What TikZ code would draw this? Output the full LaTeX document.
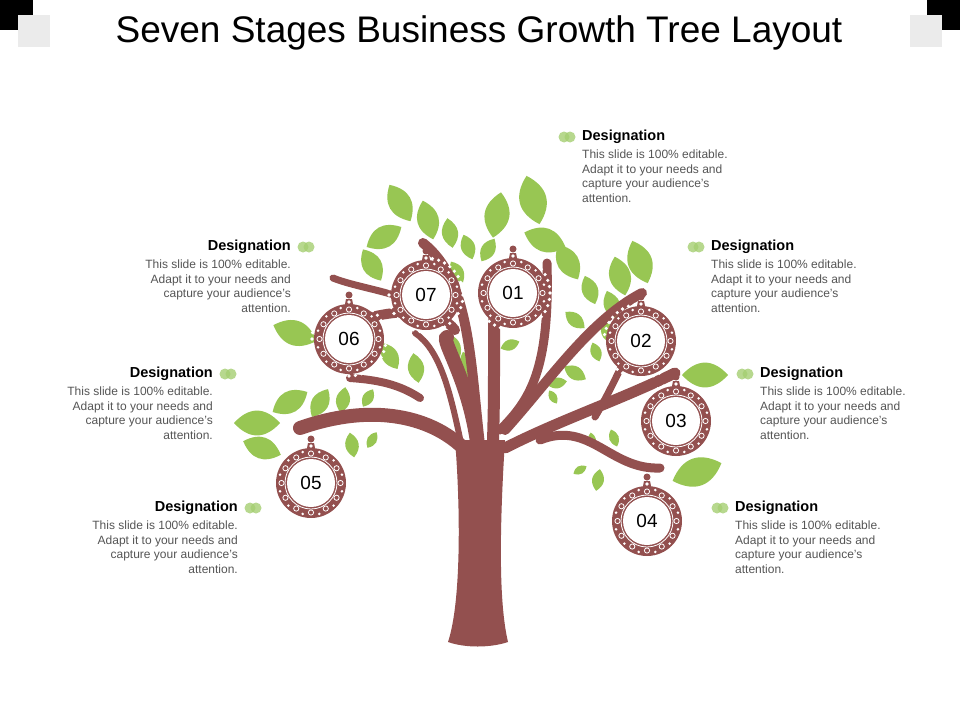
\documentclass[tikz,border=0pt]{standalone}
\usepackage{fontspec}
\setmainfont{Liberation Sans}
\begin{document}
\begin{tikzpicture}[x=1pt,y=-1pt,
  bark/.style={fill=bark,draw=none},
  br/.style={draw=bark,line cap=round},
  hd/.style={font=\fontsize{14.5}{16}\selectfont\bfseries,inner sep=0pt},
  bd/.style={font=\fontsize{12}{14.5}\selectfont,text=txt,inner sep=0pt},
  dot/.style={fill=dotg,draw=none,opacity=.8}]
\definecolor{bark}{HTML}{93504F}
\definecolor{leafc}{HTML}{98C653}
\definecolor{dotg}{HTML}{A5CF72}
\definecolor{txt}{HTML}{555555}
\useasboundingbox (0,0) rectangle (960,720);
\fill[white] (0,0) rectangle (960,720);
\fill[black] (0,0) rectangle (33,30);
\fill[black!8] (18,15) rectangle (50,47);
\fill[black] (927,0) rectangle (960,30);
\fill[black!8] (910,15) rectangle (942,47);
\node[font=\fontsize{37}{42}\selectfont] (title) at (479,33) {Seven Stages Business Growth Tree Layout};
% leaves
\newcommand\leaf[4]{\fill[leafc,shift={(#1,#2)},rotate=-#3,scale=#4/2]
 (-1,0) .. controls (-.35,-.72) and (.35,-.72) .. (1,0) .. controls (.35,.72) and (-.35,.72) .. (-1,0);}
\foreach \a/\b/\c/\d in {400/203/60/42,428/220/75/40,450/233/80/30,468/247/70/26,497/215/100/46,533/200/75/50,545/240/20/44,568/262/60/40,590/290/70/30,612/305/70/30,620/276/75/40,640/262/70/45,384/237/-30/40,372/265/60/36,457/272/60/24,488/250/120/26,390/356/60/30,416/368/80/30,452/346/60/30,468/366/70/30,510/345/-20/20,575/320/40/25,596/352/70/20,575/373/30/25,557/383/-10/20,553/397/60/15,608/332/70/25,295/333/20/46,290/402/-30/40,320/403/-60/32,343/400/-80/26,368/398/-60/20,257/423/0/46,262/448/20/40,352/445/80/25,372/440/-60/18,705/375/0/46,697/472/-20/52,580/470/-30/15,598/480/-80/22,614/438/70/18,592/440/80/15}
 {\leaf{\a}{\b}{\c}{\d}}
% trunk
\fill[bark] (448,642) .. controls (462,600) and (460,500) .. (455,440)
  -- (505,440) .. controls (500,520) and (498,600) .. (508,642) .. controls (490,648) and (465,648) .. (448,642);
% branches
\draw[br,line width=14] (470,455) .. controls (440,420) and (380,400) .. (300,428);
\draw[br,line width=6] (300,428) -- (296,428);
\draw[br,line width=8] (420,398) .. controls (400,385) and (380,380) .. (350,378);
\draw[br,line width=14] (478,450) .. controls (470,380) and (440,340) .. (447,337);
\draw[br,line width=10] (480,445) .. controls (470,360) and (470,280) .. (423,243);
\draw[br,line width=6] (462,448) .. controls (450,390) and (440,350) .. (415,333);
\draw[br,line width=10] (455,330) .. controls (440,310) and (400,305) .. (345,325);
\draw[br,line width=7] (400,297) .. controls (380,290) and (350,285) .. (333,278);
\draw[br,line width=12] (493,440) .. controls (495,380) and (493,340) .. (495,300);
\draw[br,line width=9] (500,430) .. controls (530,400) and (550,370) .. (547,263);
\draw[br,line width=10] (505,430) .. controls (550,380) and (590,320) .. (642,293);
\draw[br,line width=11] (505,448) .. controls (560,420) and (620,400) .. (675,373);
\draw[br,line width=7] (595,417) .. controls (605,400) and (615,380) .. (623,363);
\draw[br,line width=9] (540,440) .. controls (590,420) and (610,470) .. (660,468);
% medallions
\newcommand\medal[3]{%
 \begin{scope}[shift={(#1,#2)}]
 \draw[bark,line width=1.4] (0,-44) circle (3.5);
 \fill[bark] (-3,-40) -- (3,-40) -- (5,-30) -- (-5,-30) -- cycle;
 \fill[bark] (0,0) circle (35);
 \foreach \t in {0,30,...,330} {\draw[white,line width=.8] (\t:29.5) circle (2.6); \fill[white] (\t+15:32) circle (1.4);}
 \foreach \t in {0,10,...,350} {\fill[white] (\t:37) circle (1.8);}
 \draw[white,line width=.8] (0,0) circle (26);
 \fill[white] (0,0) circle (24);
 \node[font=\fontsize{19}{20}\selectfont] (m#3) at (0,0) {#3};
 \end{scope}}
\medal{513}{293}{01}
\medal{641}{341}{02}
\medal{676}{421}{03}
\medal{647}{521}{04}
\medal{311}{483}{05}
\medal{349}{339}{06}
\medal{426}{295}{07}
% text blocks
\newcommand\body{This slide is 100\% editable.\\Adapt it to your needs and\\capture your audience's\\attention.}
\newcommand\rblock[3]{%
 \fill[dot] (#1-18,#2) circle (5.5); \fill[dot] (#1-12,#2) circle (5.5);
 \node[hd,anchor=west] (h#3) at (#1,#2) {Designation};
 \node[bd,anchor=north west,align=left] (b#3) at (#1,#2+13) {\body};}
\newcommand\lblock[3]{%
 \fill[dot] (#1+12,#2) circle (5.5); \fill[dot] (#1+18,#2) circle (5.5);
 \node[hd,anchor=east] (h#3) at (#1,#2) {Designation};
 \node[bd,anchor=north east,align=right] (b#3) at (#1,#2+13) {\body};}
\rblock{582}{137}{1}
\rblock{711}{247}{2}
\rblock{760}{374}{3}
\rblock{735}{508}{4}
\lblock{238}{508}{5}
\lblock{213}{374}{6}
\lblock{291}{247}{7}
\end{tikzpicture}
\end{document}
